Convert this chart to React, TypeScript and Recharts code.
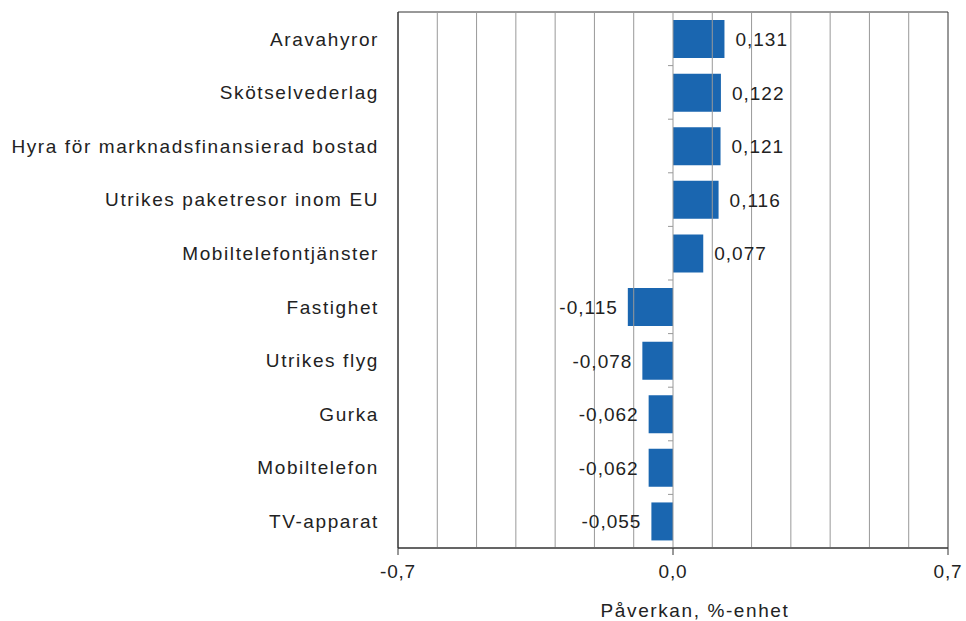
import { BarChart, Bar, XAxis, YAxis, ReferenceLine, ReferenceArea, LabelList } from "recharts";

const categories = [
  "Aravahyror",
  "Skötselvederlag",
  "Hyra för marknadsfinansierad bostad",
  "Utrikes paketresor inom EU",
  "Mobiltelefontjänster",
  "Fastighet",
  "Utrikes flyg",
  "Gurka",
  "Mobiltelefon",
  "TV-apparat",
];
const impact = [0.131, 0.122, 0.121, 0.116, 0.077, -0.115, -0.078, -0.062, -0.062, -0.055];
const xTicks = [-0.7, 0, 0.7];
const gridValues = [-0.6, -0.5, -0.4, -0.3, -0.2, -0.1, 0.1, 0.2, 0.3, 0.4, 0.5, 0.6];

const data = categories.map((name, i) => ({ name, value: impact[i] }));

const FONT = "'Liberation Sans', Arial, sans-serif";

const ValueLabel = (props: any) => {
  const { x, y, width, height, value } = props;
  const left = Math.min(x, x + width);
  const right = Math.max(x, x + width);
  const neg = value < 0;
  return (
    <text
      x={neg ? left - 10 : right + 11}
      y={y + height / 2}
      dy={7}
      textAnchor={neg ? "end" : "start"}
      fill="#222"
      fontSize={19}
      letterSpacing={1}
      fontFamily={FONT}
    >
      {value.toFixed(3).replace(".", ",")}
    </text>
  );
};

// zero line with small category tick marks on its left
const ZeroLine = (props: any) => {
  const { x1, y1, y2 } = props;
  const top = Math.min(y1, y2);
  const bottom = Math.max(y1, y2);
  const step = (bottom - top) / categories.length;
  const marks = Array.from({ length: categories.length + 1 }, (_, i) => top + i * step);
  return (
    <g>
      <line x1={x1} x2={x1} y1={top} y2={bottom} stroke="#999" strokeWidth={1} />
      {marks.map((m, i) => (
        <line key={i} x1={x1 - 5} x2={x1} y1={m} y2={m} stroke="#999" strokeWidth={1} />
      ))}
    </g>
  );
};

export default function App() {
  return (
    <div style={{ position: "absolute", left: 0, top: 0, background: "#fff" }}>
      <BarChart
        width={966}
        height={621}
        data={data}
        layout="vertical"
        margin={{ top: 12, right: 18, bottom: 0, left: 0 }}
        barCategoryGap="15%"
      >
        <XAxis
          type="number"
          domain={[-0.7, 0.7]}
          ticks={xTicks}
          tickFormatter={(v: number) => v.toFixed(1).replace(".", ",")}
          tick={{ fill: "#222", fontSize: 19, fontFamily: FONT, letterSpacing: 0.8 }}
          tickSize={7}
          tickMargin={10}
          axisLine={{ stroke: "#333" }}
          tickLine={{ stroke: "#333" }}
          label={{
            value: "Påverkan, %-enhet",
            position: "insideBottom",
            offset: 4,
            dx: 22,
            fill: "#222",
            fontSize: 19,
            letterSpacing: 1.6,
            fontFamily: FONT,
          }}
          height={73}
        />
        <YAxis
          type="category"
          dataKey="name"
          width={398}
          tick={{ fill: "#222", fontSize: 19, fontFamily: FONT, letterSpacing: 1.6 }}
          tickSize={0}
          tickMargin={19}
          tickLine={false}
          axisLine={{ stroke: "#333" }}
        />
        {gridValues.map((g) => (
          <ReferenceLine key={g} x={g} stroke="#999" strokeWidth={1} />
        ))}
        <ReferenceArea x1={-0.7} x2={0.7} fill="none" stroke="#333" strokeWidth={1} fillOpacity={0} />
        <Bar dataKey="value" fill="#1a66b0" isAnimationActive={false}>
          <LabelList dataKey="value" content={<ValueLabel />} />
        </Bar>
        <ReferenceLine x={0} shape={<ZeroLine />} />
      </BarChart>
    </div>
  );
}
